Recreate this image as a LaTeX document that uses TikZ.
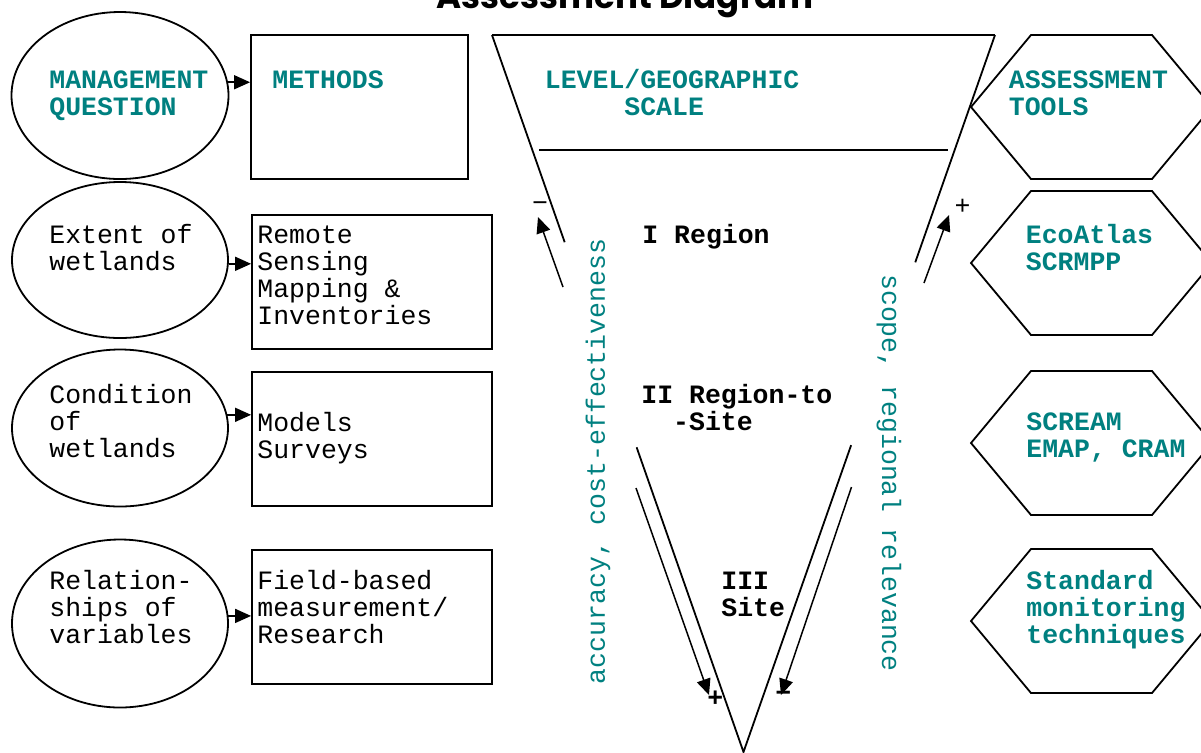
\documentclass[tikz,border=0pt]{standalone}
\usepackage{fontspec}
\setmainfont{Liberation Mono}
\newfontfamily\titlefont{Poppins}
\usetikzlibrary{shapes.geometric,arrows.meta,calc}

\definecolor{wetteal}{RGB}{0,128,128}

\tikzset{
  outline/.style={line width=0.9pt},
  qnode/.style={ellipse, draw, outline, inner sep=0pt},
  mbox/.style={rectangle, draw, outline, inner sep=0pt},
  lbl/.style={anchor=base west, inner sep=0pt, align=left, font=\fontsize{13.25}{13.5}\selectfont},
  tlbl/.style={lbl, text=wetteal, font=\fontsize{13.25}{13.5}\selectfont\bfseries},
  blbl/.style={lbl, font=\fontsize{13.25}{13.5}\selectfont\bfseries},
  sidelbl/.style={inner sep=0pt, text=wetteal, font=\fontsize{13.25}{13.5}\selectfont},
  sign/.style={anchor=base, inner sep=0pt, font=\fontsize{13.25}{13.5}\selectfont},
  arr/.style={-{Triangle[length=8pt,width=7pt]}, line width=0.75pt},
}

\begin{document}
\begin{tikzpicture}[x=0.5pt,y=-0.5pt]

\useasboundingbox (0,0) rectangle (1201,752);
\clip (0,0) rectangle (1201,752);

\node[anchor=base, inner sep=0pt, font=\titlefont\bfseries\fontsize{17}{17}\selectfont] (title) at (625,8) {Assessment Diagram};

% questions (labels anchored at their last line)
\node[qnode, minimum width=108.5pt, minimum height=83.5pt] (mgmtQ) at (120,95.5) {};
\node[qnode, minimum width=108pt, minimum height=78pt] (extentQ) at (120,260) {};
\node[qnode, minimum width=108pt, minimum height=78.5pt] (conditionQ) at (120,428) {};
\node[qnode, minimum width=108pt, minimum height=84pt] (relationQ) at (120,623.5) {};

\node[tlbl] (mgmtText) at (49,115.5) {MANAGEMENT\\QUESTION};
\node[lbl] (extentText) at (49,270.5) {Extent of\\wetlands};
\node[lbl] (conditionText) at (49,457.5) {Condition\\of\\wetlands};
\node[lbl] (relationText) at (49,643.5) {Relation-\\ships of\\variables};

% methods
\node[mbox, minimum width=108.5pt, minimum height=72pt] (methodsBox) at (359.5,107) {};
\node[mbox, minimum width=120pt, minimum height=67pt] (remoteBox) at (372,282) {};
\node[mbox, minimum width=120pt, minimum height=67pt] (modelsBox) at (372,439) {};
\node[mbox, minimum width=120pt, minimum height=67pt] (fieldBox) at (372,617) {};

\node[tlbl] (methodsText) at (272,88.5) {METHODS};
\node[lbl] (remoteText) at (257,324.5) {Remote\\Sensing\\Mapping \&\\Inventories};
\node[lbl] (modelsText) at (257,458) {Models\\Surveys};
\node[lbl] (fieldText) at (257,643.5) {Field-based\\measurement/\\Research};

\draw[arr] (mgmtQ.7) -- (mgmtQ.7 -| methodsBox.west);
\draw[arr] (extentQ.-2) -- (extentQ.-2 -| remoteBox.west);
\draw[arr] (conditionQ.7) -- (conditionQ.7 -| modelsBox.west);
\draw[arr] (relationQ.4) -- (relationQ.4 -| fieldBox.west);

% funnel
\coordinate (funnelTL) at (492,35);
\coordinate (funnelTR) at (995,35);
\coordinate (funnelTip) at (743.5,752);
\draw[outline] (funnelTL) -- (funnelTR);
\draw[outline] (funnelTL) -- ($(funnelTL)!0.289!(funnelTip)$);
\draw[outline] (funnelTR) -- ($(funnelTR)!0.317!(funnelTip)$);
\draw[outline] ($(funnelTL)!0.575!(funnelTip)$) -- (funnelTip) -- ($(funnelTR)!0.572!(funnelTip)$);
\draw[outline] (539,150) -- (948,150);

\node[tlbl] (levelText) at (544.5,115.5) {LEVEL/GEOGRAPHIC\\\phantom{LEVEL}SCALE};
\node[blbl] (regionText) at (642,243) {I Region};
\node[blbl] (midText) at (641,430.3) {II Region-to\\\phantom{II}-Site};
\node[blbl] (siteText) at (721,616.5) {III\\Site};

% trend arrows
\coordinate (accStart) at (563,287);
\coordinate (accEnd) at (538,217);
\coordinate (scopeStart) at (924,283);
\coordinate (scopeEnd) at (949,215);
\coordinate (accDownStart) at (636,488);
\coordinate (accDownEnd) at (709,695);
\coordinate (scopeDownStart) at (851.5,487);
\coordinate (scopeDownEnd) at (781,695);
\draw[arr] (accStart) -- (accEnd);
\draw[arr] (scopeStart) -- (scopeEnd);
\draw[arr] (accDownStart) -- (accDownEnd);
\draw[arr] (scopeDownStart) -- (scopeDownEnd);

\node[sign] (minusUp) at (540,211) {−};
\node[sign] (plusUp) at (962.5,214) {+};
\node[sign, font=\fontsize{13.25}{13.5}\selectfont\bfseries] (plusDown) at (715.4,706) {+};
\node[sign, font=\fontsize{13.25}{13.5}\selectfont\bfseries] (minusDown) at (783.4,701) {−};

\node[sidelbl, rotate=90] (accLabel) at (598,461.5) {accuracy, cost-effectiveness};
\node[sidelbl, rotate=-90] (scopeLabel) at (889,473) {scope, regional relevance};

% tools
\foreach \cy in {107,263,443,621}
  \draw[outline] (971,\cy) -- (1031,\cy-72) -- (1152,\cy-72) -- (1212,\cy)
    -- (1152,\cy+72) -- (1031,\cy+72) -- cycle;

\node[tlbl] (toolsText) at (1008.5,115.5) {ASSESSMENT\\TOOLS};
\node[tlbl] (ecoText) at (1025.5,270) {EcoAtlas\\SCRMPP};
\node[tlbl] (screamText) at (1026,457) {SCREAM\\EMAP, CRAM};
\node[tlbl] (standardText) at (1026,643.5) {Standard\\monitoring\\techniques};

\end{tikzpicture}
\end{document}
